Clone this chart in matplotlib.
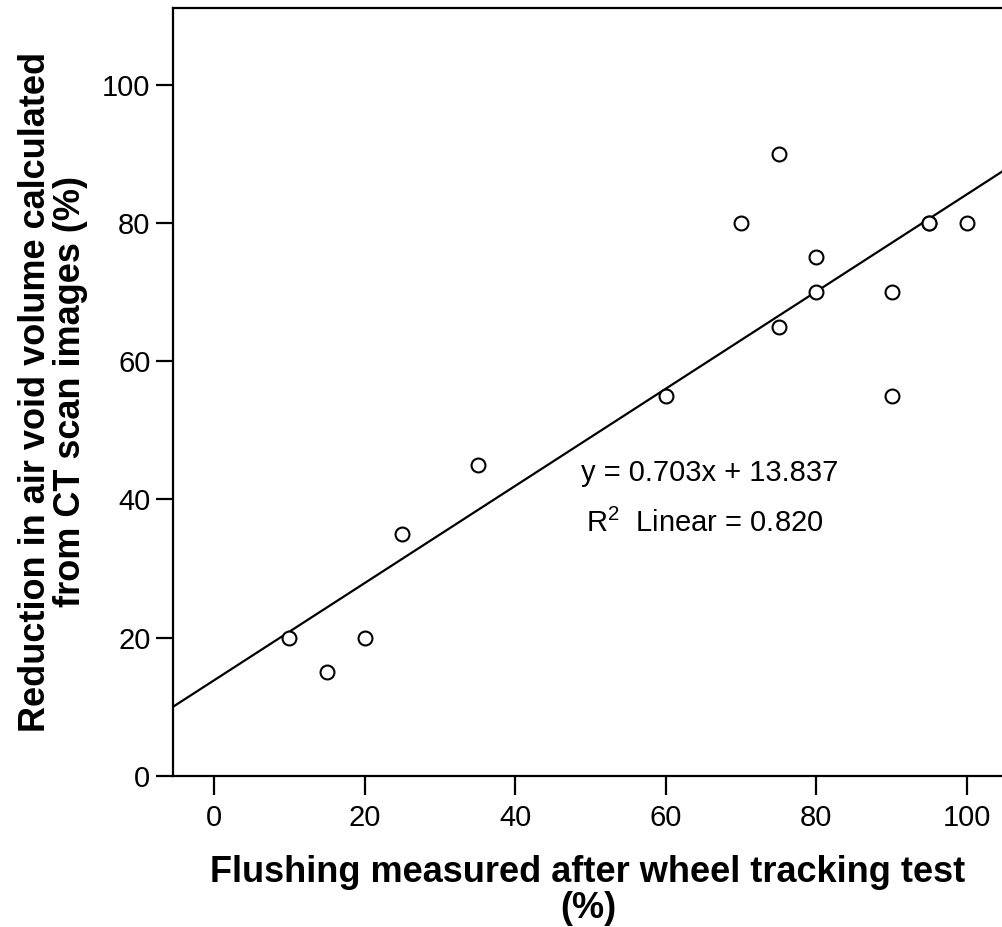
import matplotlib
matplotlib.use("Agg")
import matplotlib.pyplot as plt
import numpy as np

plt.rcParams.update({
    "font.family": "Liberation Sans",
    "mathtext.fontset": "custom",
    "mathtext.rm": "Liberation Sans",
    "mathtext.it": "Liberation Sans:italic",
})

# flushing (%) vs reduction in air void volume (%)
flushing = [10, 15, 20, 25, 35, 60, 70, 75, 75, 80, 80, 90, 90, 95, 95, 100]
reduction = [20, 15, 20, 35, 45, 55, 80, 90, 65, 75, 70, 70, 55, 80, 80, 80]
slope, intercept = 0.703, 13.837
x_ticks = [0, 20, 40, 60, 80, 100]
y_ticks = [0, 20, 40, 60, 80, 100]

fig = plt.figure(figsize=(10.03, 9.27), dpi=100)
ax = fig.add_axes([0.1722, 0.163, 0.8278, 0.8284])

xlim = (-5.5, 104.8)
ax.set_xlim(*xlim)
ax.set_ylim(0, 111.1)

xs = np.array(xlim)
ax.plot(xs, slope * xs + intercept, color="black", lw=1.6, zorder=2)
ax.plot(flushing, reduction, "o", ms=10, mfc="white", mec="black", mew=1.5, zorder=3)

ax.text(65.9, 43.8, "y = 0.703x + 13.837", fontsize=21, ha="center", va="center")
ax.text(65.2, 36.6, r"R$^2$  Linear = 0.820", fontsize=21, ha="center", va="center")

ax.spines["right"].set_visible(False)
for s in ["left", "bottom", "top"]:
    ax.spines[s].set_linewidth(1.6)

ax.set_xticks(x_ticks)
ax.set_yticks(y_ticks)
ax.tick_params(axis="x", length=14, width=1.6, labelsize=21, pad=6)
ax.tick_params(axis="y", length=12, width=1.6, labelsize=21, pad=4)

ax.set_xlabel("Flushing measured after wheel tracking test\n(%)", fontsize=26,
              fontweight="bold", labelpad=17, linespacing=1.02)
ax.set_ylabel("Reduction in air void volume calculated\nfrom CT scan images (%)", fontsize=26,
              fontweight="bold", labelpad=10, linespacing=1.0)

fig.savefig("out.png", dpi=100)
